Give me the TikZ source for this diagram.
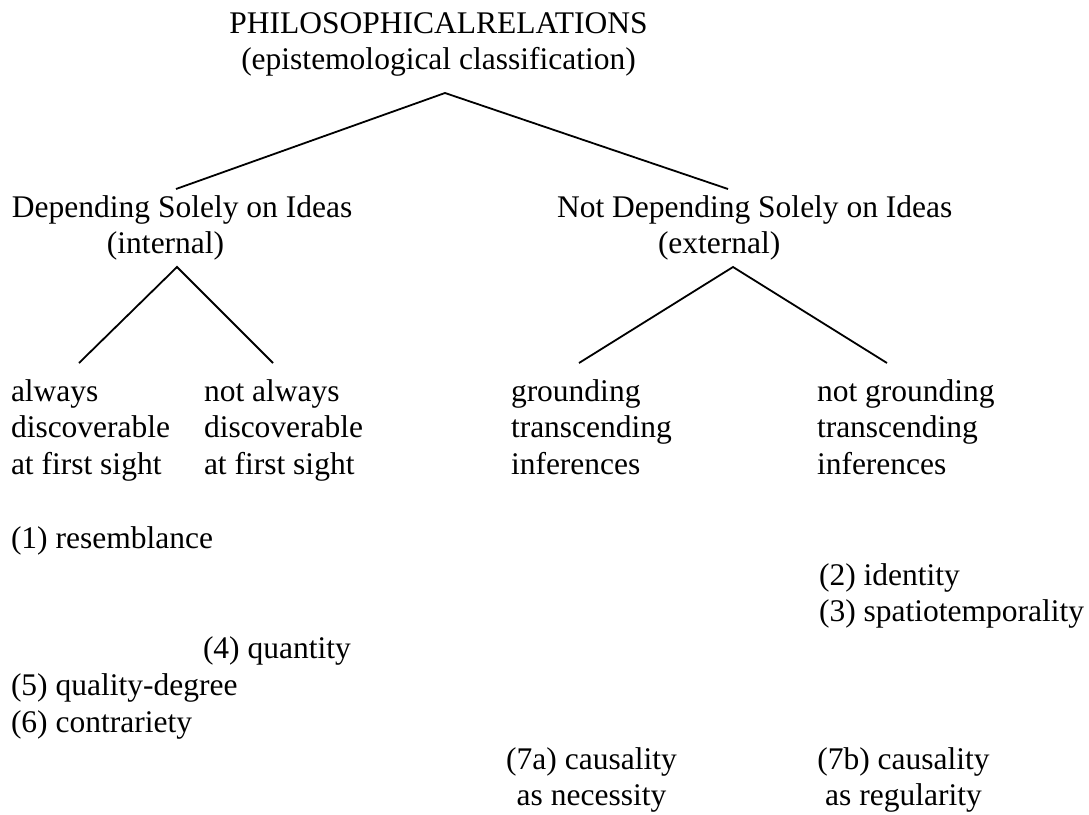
\documentclass[tikz,border=0pt]{standalone}
\usepackage{fontspec}
\setmainfont{Liberation Serif}
\newcommand{\mlL}[1]{\begin{tabular}[t]{@{}l@{}}#1\end{tabular}}
\newcommand{\mlC}[1]{\begin{tabular}[t]{@{}c@{}}#1\end{tabular}}
\begin{document}
\begin{tikzpicture}[x=1pt,y=-1pt,
  txt/.style={inner sep=0pt, outer sep=0pt, anchor=base west, font=\fontsize{31.5}{36.8}\selectfont},
  ctxt/.style={txt, anchor=base},
  conn/.style={line width=1.8pt, line cap=butt, line join=miter}]
\useasboundingbox (0,0) rectangle (1089,814);
% text blocks
\node[ctxt] (title) at (438.5,33) {\mlC{PHILOSOPHICALRELATIONS\\(epistemological classification)}};
\node[txt] (dep) at (12,217) {\mlL{Depending Solely on Ideas\\\hspace*{95pt}(internal)}};
\node[txt] (ndep) at (557,217) {\mlL{Not Depending Solely on Ideas\\\hspace*{101pt}(external)}};
\node[txt] (alw) at (11,401) {\mlL{always\\discoverable\\at first sight}};
\node[txt] (nalw) at (204,401) {\mlL{not always\\discoverable\\at first sight}};
\node[txt] (grd) at (511,401) {\mlL{grounding\\transcending\\inferences}};
\node[txt] (ngrd) at (817,401) {\mlL{not grounding\\transcending\\inferences}};
\node[txt] (r1) at (11,548.2) {(1) resemblance};
\node[txt] (r23) at (819,585) {\mlL{(2) identity\\(3) spatiotemporality}};
\node[txt] (r4) at (203,658.6) {(4) quantity};
\node[txt] (r56) at (11,695.4) {\mlL{(5) quality-degree\\(6) contrariety}};
\node[ctxt] (r7a) at (591.5,769) {\mlC{(7a) causality\\as necessity}};
\node[ctxt] (r7b) at (903.5,769) {\mlC{(7b) causality\\as regularity}};
% connector end points
\coordinate (titleApex) at (445,93);
\coordinate (depTop) at (176,189);
\coordinate (ndepTop) at (728,189);
\coordinate (intApex) at (177,267);
\coordinate (alwTop) at (79,363);
\coordinate (nalwTop) at (273,363);
\coordinate (extApex) at (733,267);
\coordinate (grdTop) at (579,363);
\coordinate (ngrdTop) at (887,363);
% connectors
\draw[conn] (depTop) -- (titleApex) -- (ndepTop);
\draw[conn] (alwTop) -- (intApex) -- (nalwTop);
\draw[conn] (grdTop) -- (extApex) -- (ngrdTop);
\end{tikzpicture}
\end{document}
